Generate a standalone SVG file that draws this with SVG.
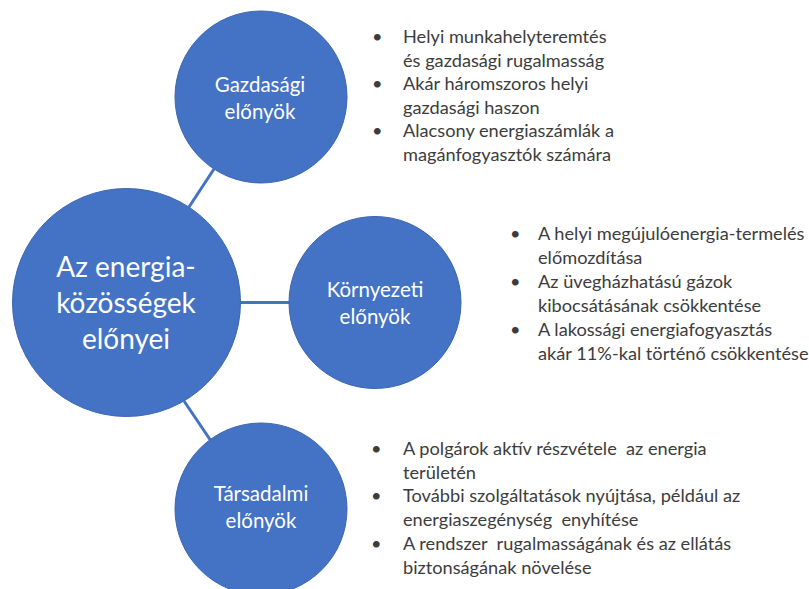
<svg xmlns="http://www.w3.org/2000/svg" width="809" height="589" viewBox="0 0 809 589">
<style>
.node{fill:#4472C4;stroke:#3A65B0;stroke-width:1}
.lbl{font-family:Lato,"Liberation Sans",sans-serif;fill:#ffffff;text-anchor:middle}
.small{font-size:20.5px}
.big{font-size:28px}
.conn{stroke:#4472C4;stroke-width:3;fill:none}
.bul{font-family:Lato,"Liberation Sans",sans-serif;font-size:18.2px;fill:#3c3c3c;white-space:pre}
</style>
<rect width="809" height="589" fill="#ffffff"/>
<g id="connectors">
<line class="conn" x1="189" y1="207" x2="214" y2="169"/>
<line class="conn" x1="239" y1="302.5" x2="290" y2="302.5"/>
<line class="conn" x1="184" y1="401" x2="211" y2="441"/>
</g>
<g id="node-center">
<circle class="node" cx="126.5" cy="302.5" r="114"/>
<text class="lbl big" x="126" y="277">Az energia-</text>
<text class="lbl big" x="126" y="313">közösségek</text>
<text class="lbl big" x="126" y="349">előnyei</text>
</g>
<g id="node-gazdasagi">
<circle class="node" cx="261" cy="97" r="86"/>
<text class="lbl small" x="260" y="92">Gazdasági</text>
<text class="lbl small" x="260" y="119">előnyök</text>
</g>
<g id="node-kornyezeti">
<circle class="node" cx="375" cy="302.5" r="86"/>
<text class="lbl small" x="375" y="297">Környezeti</text>
<text class="lbl small" x="375" y="324">előnyök</text>
</g>
<g id="node-tarsadalmi">
<circle class="node" cx="261" cy="509" r="86"/>
<text class="lbl small" x="261" y="501">Társadalmi</text>
<text class="lbl small" x="261" y="528">előnyök</text>
</g>
<g id="list-gazdasagi" class="bul">
<text x="372" y="43">•</text>
<text x="403" y="43">Helyi munkahelyteremtés</text>
<text x="403" y="66.5">és gazdasági rugalmasság</text>
<text x="372" y="90">•</text>
<text x="403" y="90">Akár háromszoros helyi</text>
<text x="403" y="113.5">gazdasági haszon</text>
<text x="372" y="137">•</text>
<text x="403" y="137">Alacsony energiaszámlák a</text>
<text x="403" y="160.5">magánfogyasztók számára</text>
</g>
<g id="list-kornyezeti" class="bul">
<text x="510" y="240">•</text>
<text x="538" y="240">A helyi megújulóenergia-termelés</text>
<text x="538" y="263.5">előmozdítása</text>
<text x="510" y="288">•</text>
<text x="538" y="288">Az üvegházhatású gázok</text>
<text x="538" y="311.5">kibocsátásának csökkentése</text>
<text x="510" y="336">•</text>
<text x="538" y="336">A lakossági energiafogyasztás</text>
<text x="538" y="359.5">akár 11%-kal történő csökkentése</text>
</g>
<g id="list-tarsadalmi" class="bul">
<text x="371" y="455">•</text>
<text x="403" y="455" xml:space="preserve">A polgárok aktív részvétele  az energia</text>
<text x="403" y="478.5">területén</text>
<text x="371" y="502">•</text>
<text x="403" y="502">További szolgáltatások nyújtása, például az</text>
<text x="403" y="525.5" xml:space="preserve">energiaszegénység  enyhítése</text>
<text x="371" y="550">•</text>
<text x="403" y="550" xml:space="preserve">A rendszer  rugalmasságának és az ellátás</text>
<text x="403" y="573.5">biztonságának növelése</text>
</g>
</svg>
